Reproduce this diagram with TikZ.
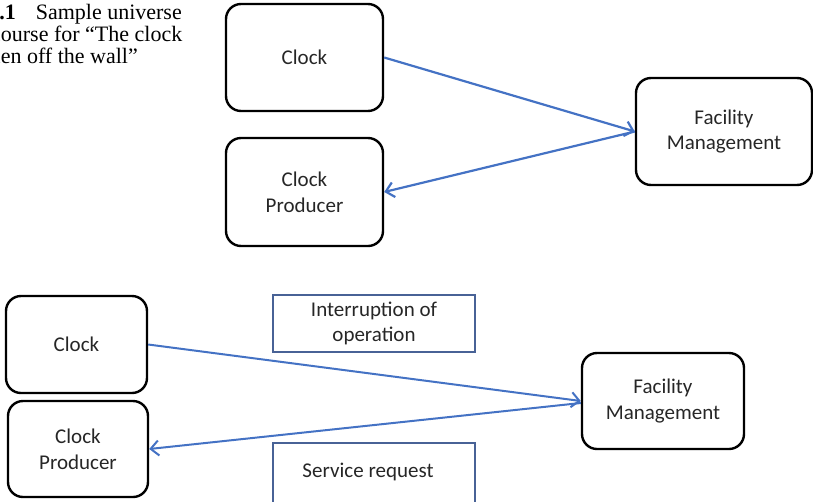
\documentclass[tikz,border=0pt]{standalone}
\usepackage{fontspec}
\setmainfont{Carlito}
\newfontfamily\capfont{Liberation Serif}
\usetikzlibrary{arrows.meta}
\definecolor{flowblue}{RGB}{68,114,196}
\definecolor{tagblue}{RGB}{72,98,150}
\definecolor{inkgray}{RGB}{38,38,38}

\tikzset{
  entity/.style={draw=black, line width=2.4pt, rounded corners=15pt,
    align=center, text=inkgray, inner sep=0pt,
    font=\fontsize{21}{25.6}\selectfont},
  tag/.style={draw=tagblue, line width=1.3pt, align=center, text=inkgray,
    inner sep=0pt, font=\fontsize{21}{25.6}\selectfont},
  flow/.style={draw=flowblue, line width=2.2pt,
    -{Straight Barb[length=8pt,width=15pt]}},
  capline/.style={inner sep=0pt, anchor=base east, text=black,
    font=\capfont\fontsize{22}{22}\selectfont}
}

\begin{document}
\begin{tikzpicture}[x=1pt,y=-1pt]
\useasboundingbox (0,0) rectangle (813,501);
\clip (0,0) rectangle (813,501);

% figure caption, running off the left margin
\node[capline] (cap1) at (182,19) {\textbf{Fig. 4.1}\hspace{20pt}Sample universe};
\node[capline] (cap2) at (182.5,41.5) {of discourse for “The clock};
\node[capline] (cap3) at (138,63.5) {has fallen off the wall”};

% upper universe of discourse
\node[entity, minimum width=157pt, minimum height=107pt] (tclock) at (304.5,57.5) {Clock};
\node[entity, minimum width=157pt, minimum height=108pt] (tprod) at (304.5,192) {Clock\\Producer};
\node[entity, minimum width=176pt, minimum height=107pt] (tfm) at (724,131.5) {Facility\\Management};

\draw[flow] (tclock.east) -- (tfm.west);
\draw[flow] (tfm.west) -- (tprod.east);

% lower universe of discourse with relation labels
\node[entity, minimum width=141pt, minimum height=97pt] (bclock) at (76.5,344.5) {Clock};
\node[entity, minimum width=140pt, minimum height=96pt] (bprod) at (78,449) {Clock\\Producer};
\node[entity, minimum width=162pt, minimum height=96pt] (bfm) at (663,401) {Facility\\Management};

\node[tag, minimum width=202pt, minimum height=57pt] (interr) at (374,323.5) {Interruption of\\operation};
\node[tag, minimum width=202pt, minimum height=62pt, text depth=0pt] (serv) at (374,474) {};
\node[font=\fontsize{21}{25.6}\selectfont, text=inkgray, inner sep=0pt] (servtxt) at (368,472) {Service request};

\draw[flow, line width=2pt] (bclock.east) -- (bfm.west);
\draw[flow, line width=2pt] ([yshift=-2pt]bfm.west) -- (bprod.east);
\end{tikzpicture}
\end{document}
